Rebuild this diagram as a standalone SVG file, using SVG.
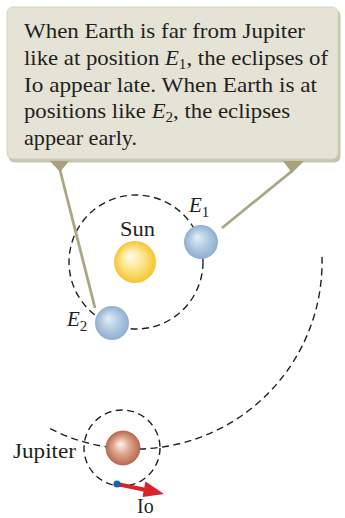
<svg xmlns="http://www.w3.org/2000/svg" width="345" height="518" viewBox="0 0 345 518">
  <style>
    .txt { font-family: "Liberation Serif", "Times New Roman", serif; fill: #231f20; }
    .note { font-size: 21px; }
    .lbl { font-size: 21px; }
    .it { font-style: italic; }
    .orbit { fill: none; stroke: #231f20; stroke-width: 1.4; stroke-dasharray: 7 4.5; }
    .leader { fill: none; stroke: #aaa684; stroke-width: 2.8; }
    .tip { fill: #a6a27a; }
  </style>
  <defs>
    <radialGradient id="gSun" cx="0.5" cy="0.5" r="0.5" fx="0.38" fy="0.35">
      <stop offset="0" stop-color="#fffdf2"/>
      <stop offset="0.45" stop-color="#fde89a"/>
      <stop offset="1" stop-color="#f6c431"/>
    </radialGradient>
    <radialGradient id="gEarth" cx="0.5" cy="0.5" r="0.5" fx="0.38" fy="0.35">
      <stop offset="0" stop-color="#e6eff7"/>
      <stop offset="0.5" stop-color="#b6cde3"/>
      <stop offset="1" stop-color="#8eaed0"/>
    </radialGradient>
    <radialGradient id="gJup" cx="0.5" cy="0.5" r="0.5" fx="0.42" fy="0.38">
      <stop offset="0" stop-color="#fdf6f2"/>
      <stop offset="0.5" stop-color="#dfa58f"/>
      <stop offset="1" stop-color="#b86a52"/>
    </radialGradient>
  </defs>

  <!-- callout box -->
  <g id="callout">
    <rect x="8.5" y="9.5" width="332" height="153" rx="6" fill="#c7c5ad"/>
    <rect x="7" y="7" width="331" height="152" rx="6" fill="#e4e3d6" stroke="#d4d2c0" stroke-width="1"/>
    <text class="txt note" x="24" y="38" textLength="281" lengthAdjust="spacingAndGlyphs">When Earth is far from Jupiter</text>
    <text class="txt note" x="24" y="65" textLength="304" lengthAdjust="spacingAndGlyphs">like at position <tspan class="it">E</tspan><tspan font-size="14" dy="4">1</tspan><tspan dy="-4">, the eclipses of</tspan></text>
    <text class="txt note" x="24" y="91.5" textLength="293" lengthAdjust="spacingAndGlyphs">Io appear late. When Earth is at</text>
    <text class="txt note" x="24" y="118" textLength="266" lengthAdjust="spacingAndGlyphs">positions like <tspan class="it">E</tspan><tspan font-size="14" dy="4">2</tspan><tspan dy="-4">, the eclipses</tspan></text>
    <text class="txt note" x="24" y="145" textLength="113" lengthAdjust="spacingAndGlyphs">appear early.</text>
  </g>

  <!-- orbits and pointer lines -->
  <g id="connectors">
    <circle class="orbit" cx="136" cy="262" r="67"/>
    <path class="orbit" d="M 322 257 A 187 187 0 0 1 47.2 427.1"/>
    <circle class="orbit" cx="122" cy="448" r="38"/>
    <path class="leader" d="M 60 170 L 95 308"/>
    <path class="leader" d="M 292 171 L 222 228"/>
    <polygon class="tip" points="50,161 69,161 60,172"/>
    <polygon class="tip" points="283,161 304,161 292,173"/>
  </g>

  <g id="sun">
    <circle cx="135" cy="262" r="21" fill="url(#gSun)"/>
    <text class="txt lbl" x="120" y="236" textLength="35" lengthAdjust="spacingAndGlyphs">Sun</text>
  </g>

  <g id="earth-e1">
    <circle cx="201" cy="242" r="17" fill="url(#gEarth)"/>
    <text class="txt lbl" x="189" y="212"><tspan class="it">E</tspan><tspan font-size="15" dy="5">1</tspan></text>
  </g>

  <g id="earth-e2">
    <circle cx="112" cy="323" r="17" fill="url(#gEarth)"/>
    <text class="txt lbl" x="67" y="326"><tspan class="it">E</tspan><tspan font-size="15" dy="5">2</tspan></text>
  </g>

  <g id="jupiter">
    <circle cx="123" cy="448" r="17" fill="url(#gJup)" stroke="#b0624a" stroke-width="0.8"/>
    <text class="txt lbl" x="13" y="458" textLength="63" lengthAdjust="spacingAndGlyphs">Jupiter</text>
  </g>

  <g id="io">
    <path d="M 117 484 L 146 490" stroke="#d9222a" stroke-width="4" fill="none"/>
    <polygon points="164,494 142.5,497 145.5,481.5" fill="#d9222a"/>
    <circle cx="117" cy="484" r="3.6" fill="#1363b3"/>
    <text class="txt" font-size="20" x="137" y="513">Io</text>
  </g>
</svg>
